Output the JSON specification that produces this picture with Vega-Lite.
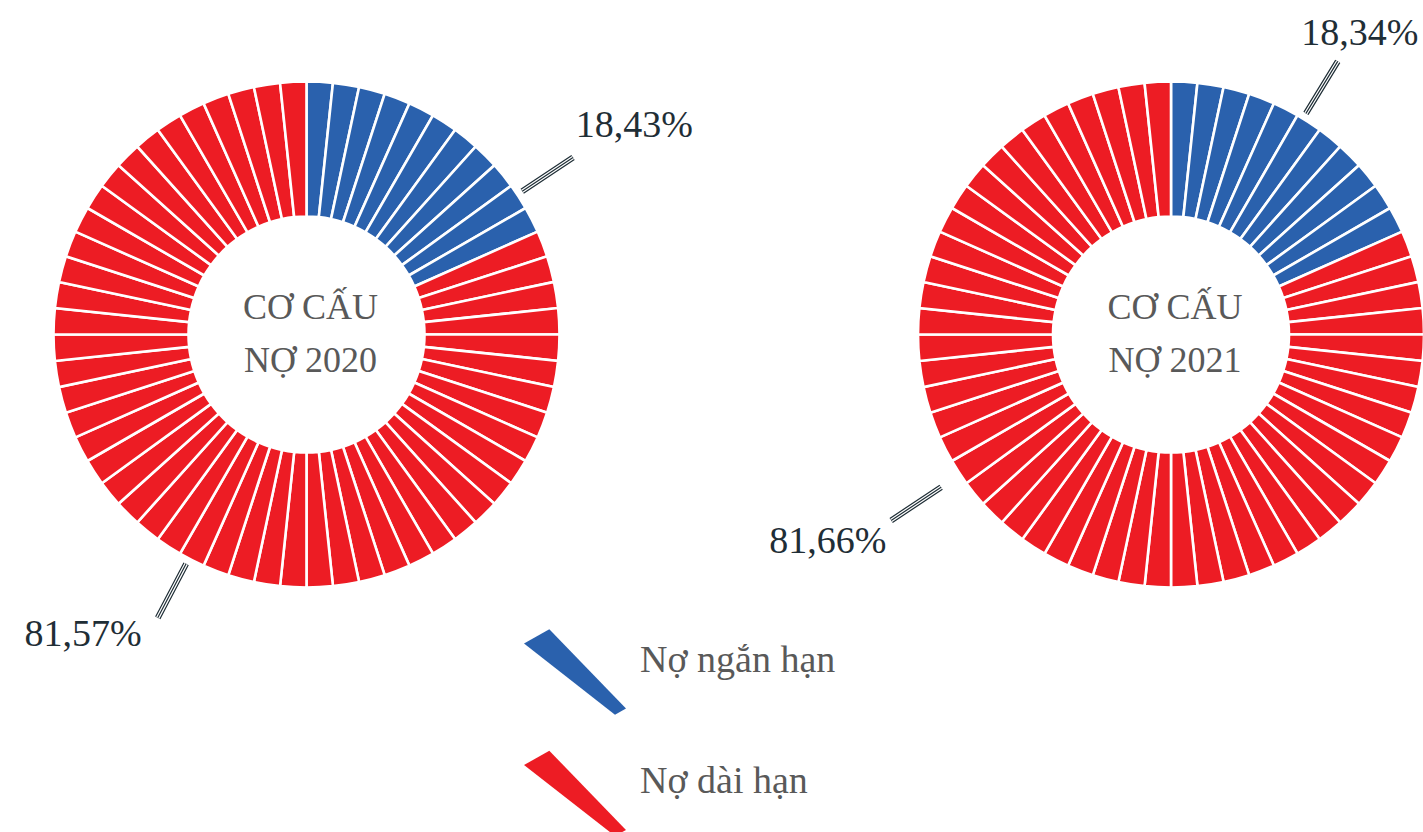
{
  "$schema": "https://vega.github.io/schema/vega-lite/v6.json",
  "width": 1423,
  "height": 669,
  "padding": 0,
  "autosize": {"type": "pad"},
  "background": "white",
  "config": {
    "view": {"stroke": null},
    "locale": {"number": {"decimal": ",", "thousands": ".", "grouping": [3], "currency": ["", " ₫"]}},
    "text": {"font": "Liberation Serif"},
    "legend": {
      "padding": 0,
      "symbolType": "M-0.927,-0.516L-0.467,-0.776L0.927,0.665L0.727,0.775Z",
      "symbolSize": 12100,
      "symbolStrokeWidth": 0,
      "symbolOpacity": 1,
      "labelFont": "Liberation Serif",
      "labelFontSize": 38,
      "labelColor": "#595959",
      "labelBaseline": "alphabetic",
      "labelOffset": 10,
      "labelLimit": 400,
      "rowPadding": 23.4
    }
  },
  "data": {
    "values": [
      {"nam": 2020, "phan": 1, "loai": "Nợ ngắn hạn"}, {"nam": 2020, "phan": 2, "loai": "Nợ ngắn hạn"}, {"nam": 2020, "phan": 3, "loai": "Nợ ngắn hạn"}, {"nam": 2020, "phan": 4, "loai": "Nợ ngắn hạn"}, {"nam": 2020, "phan": 5, "loai": "Nợ ngắn hạn"}, {"nam": 2020, "phan": 6, "loai": "Nợ ngắn hạn"}, {"nam": 2020, "phan": 7, "loai": "Nợ ngắn hạn"}, {"nam": 2020, "phan": 8, "loai": "Nợ ngắn hạn"}, {"nam": 2020, "phan": 9, "loai": "Nợ ngắn hạn"}, {"nam": 2020, "phan": 10, "loai": "Nợ ngắn hạn"}, {"nam": 2020, "phan": 11, "loai": "Nợ ngắn hạn"},
      {"nam": 2020, "phan": 12, "loai": "Nợ dài hạn"}, {"nam": 2020, "phan": 13, "loai": "Nợ dài hạn"}, {"nam": 2020, "phan": 14, "loai": "Nợ dài hạn"}, {"nam": 2020, "phan": 15, "loai": "Nợ dài hạn"}, {"nam": 2020, "phan": 16, "loai": "Nợ dài hạn"}, {"nam": 2020, "phan": 17, "loai": "Nợ dài hạn"}, {"nam": 2020, "phan": 18, "loai": "Nợ dài hạn"}, {"nam": 2020, "phan": 19, "loai": "Nợ dài hạn"}, {"nam": 2020, "phan": 20, "loai": "Nợ dài hạn"}, {"nam": 2020, "phan": 21, "loai": "Nợ dài hạn"}, {"nam": 2020, "phan": 22, "loai": "Nợ dài hạn"}, {"nam": 2020, "phan": 23, "loai": "Nợ dài hạn"}, {"nam": 2020, "phan": 24, "loai": "Nợ dài hạn"}, {"nam": 2020, "phan": 25, "loai": "Nợ dài hạn"}, {"nam": 2020, "phan": 26, "loai": "Nợ dài hạn"}, {"nam": 2020, "phan": 27, "loai": "Nợ dài hạn"}, {"nam": 2020, "phan": 28, "loai": "Nợ dài hạn"}, {"nam": 2020, "phan": 29, "loai": "Nợ dài hạn"}, {"nam": 2020, "phan": 30, "loai": "Nợ dài hạn"}, {"nam": 2020, "phan": 31, "loai": "Nợ dài hạn"}, {"nam": 2020, "phan": 32, "loai": "Nợ dài hạn"}, {"nam": 2020, "phan": 33, "loai": "Nợ dài hạn"}, {"nam": 2020, "phan": 34, "loai": "Nợ dài hạn"}, {"nam": 2020, "phan": 35, "loai": "Nợ dài hạn"}, {"nam": 2020, "phan": 36, "loai": "Nợ dài hạn"}, {"nam": 2020, "phan": 37, "loai": "Nợ dài hạn"}, {"nam": 2020, "phan": 38, "loai": "Nợ dài hạn"}, {"nam": 2020, "phan": 39, "loai": "Nợ dài hạn"}, {"nam": 2020, "phan": 40, "loai": "Nợ dài hạn"}, {"nam": 2020, "phan": 41, "loai": "Nợ dài hạn"}, {"nam": 2020, "phan": 42, "loai": "Nợ dài hạn"}, {"nam": 2020, "phan": 43, "loai": "Nợ dài hạn"}, {"nam": 2020, "phan": 44, "loai": "Nợ dài hạn"}, {"nam": 2020, "phan": 45, "loai": "Nợ dài hạn"}, {"nam": 2020, "phan": 46, "loai": "Nợ dài hạn"}, {"nam": 2020, "phan": 47, "loai": "Nợ dài hạn"}, {"nam": 2020, "phan": 48, "loai": "Nợ dài hạn"}, {"nam": 2020, "phan": 49, "loai": "Nợ dài hạn"}, {"nam": 2020, "phan": 50, "loai": "Nợ dài hạn"}, {"nam": 2020, "phan": 51, "loai": "Nợ dài hạn"}, {"nam": 2020, "phan": 52, "loai": "Nợ dài hạn"}, {"nam": 2020, "phan": 53, "loai": "Nợ dài hạn"}, {"nam": 2020, "phan": 54, "loai": "Nợ dài hạn"}, {"nam": 2020, "phan": 55, "loai": "Nợ dài hạn"}, {"nam": 2020, "phan": 56, "loai": "Nợ dài hạn"}, {"nam": 2020, "phan": 57, "loai": "Nợ dài hạn"}, {"nam": 2020, "phan": 58, "loai": "Nợ dài hạn"}, {"nam": 2020, "phan": 59, "loai": "Nợ dài hạn"}, {"nam": 2020, "phan": 60, "loai": "Nợ dài hạn"},
      {"nam": 2021, "phan": 1, "loai": "Nợ ngắn hạn"}, {"nam": 2021, "phan": 2, "loai": "Nợ ngắn hạn"}, {"nam": 2021, "phan": 3, "loai": "Nợ ngắn hạn"}, {"nam": 2021, "phan": 4, "loai": "Nợ ngắn hạn"}, {"nam": 2021, "phan": 5, "loai": "Nợ ngắn hạn"}, {"nam": 2021, "phan": 6, "loai": "Nợ ngắn hạn"}, {"nam": 2021, "phan": 7, "loai": "Nợ ngắn hạn"}, {"nam": 2021, "phan": 8, "loai": "Nợ ngắn hạn"}, {"nam": 2021, "phan": 9, "loai": "Nợ ngắn hạn"}, {"nam": 2021, "phan": 10, "loai": "Nợ ngắn hạn"}, {"nam": 2021, "phan": 11, "loai": "Nợ ngắn hạn"},
      {"nam": 2021, "phan": 12, "loai": "Nợ dài hạn"}, {"nam": 2021, "phan": 13, "loai": "Nợ dài hạn"}, {"nam": 2021, "phan": 14, "loai": "Nợ dài hạn"}, {"nam": 2021, "phan": 15, "loai": "Nợ dài hạn"}, {"nam": 2021, "phan": 16, "loai": "Nợ dài hạn"}, {"nam": 2021, "phan": 17, "loai": "Nợ dài hạn"}, {"nam": 2021, "phan": 18, "loai": "Nợ dài hạn"}, {"nam": 2021, "phan": 19, "loai": "Nợ dài hạn"}, {"nam": 2021, "phan": 20, "loai": "Nợ dài hạn"}, {"nam": 2021, "phan": 21, "loai": "Nợ dài hạn"}, {"nam": 2021, "phan": 22, "loai": "Nợ dài hạn"}, {"nam": 2021, "phan": 23, "loai": "Nợ dài hạn"}, {"nam": 2021, "phan": 24, "loai": "Nợ dài hạn"}, {"nam": 2021, "phan": 25, "loai": "Nợ dài hạn"}, {"nam": 2021, "phan": 26, "loai": "Nợ dài hạn"}, {"nam": 2021, "phan": 27, "loai": "Nợ dài hạn"}, {"nam": 2021, "phan": 28, "loai": "Nợ dài hạn"}, {"nam": 2021, "phan": 29, "loai": "Nợ dài hạn"}, {"nam": 2021, "phan": 30, "loai": "Nợ dài hạn"}, {"nam": 2021, "phan": 31, "loai": "Nợ dài hạn"}, {"nam": 2021, "phan": 32, "loai": "Nợ dài hạn"}, {"nam": 2021, "phan": 33, "loai": "Nợ dài hạn"}, {"nam": 2021, "phan": 34, "loai": "Nợ dài hạn"}, {"nam": 2021, "phan": 35, "loai": "Nợ dài hạn"}, {"nam": 2021, "phan": 36, "loai": "Nợ dài hạn"}, {"nam": 2021, "phan": 37, "loai": "Nợ dài hạn"}, {"nam": 2021, "phan": 38, "loai": "Nợ dài hạn"}, {"nam": 2021, "phan": 39, "loai": "Nợ dài hạn"}, {"nam": 2021, "phan": 40, "loai": "Nợ dài hạn"}, {"nam": 2021, "phan": 41, "loai": "Nợ dài hạn"}, {"nam": 2021, "phan": 42, "loai": "Nợ dài hạn"}, {"nam": 2021, "phan": 43, "loai": "Nợ dài hạn"}, {"nam": 2021, "phan": 44, "loai": "Nợ dài hạn"}, {"nam": 2021, "phan": 45, "loai": "Nợ dài hạn"}, {"nam": 2021, "phan": 46, "loai": "Nợ dài hạn"}, {"nam": 2021, "phan": 47, "loai": "Nợ dài hạn"}, {"nam": 2021, "phan": 48, "loai": "Nợ dài hạn"}, {"nam": 2021, "phan": 49, "loai": "Nợ dài hạn"}, {"nam": 2021, "phan": 50, "loai": "Nợ dài hạn"}, {"nam": 2021, "phan": 51, "loai": "Nợ dài hạn"}, {"nam": 2021, "phan": 52, "loai": "Nợ dài hạn"}, {"nam": 2021, "phan": 53, "loai": "Nợ dài hạn"}, {"nam": 2021, "phan": 54, "loai": "Nợ dài hạn"}, {"nam": 2021, "phan": 55, "loai": "Nợ dài hạn"}, {"nam": 2021, "phan": 56, "loai": "Nợ dài hạn"}, {"nam": 2021, "phan": 57, "loai": "Nợ dài hạn"}, {"nam": 2021, "phan": 58, "loai": "Nợ dài hạn"}, {"nam": 2021, "phan": 59, "loai": "Nợ dài hạn"}, {"nam": 2021, "phan": 60, "loai": "Nợ dài hạn"}
    ]
  },
  "encoding": {
    "x": {"field": "nam", "type": "ordinal", "axis": null, "scale": {"type": "point", "padding": 0.32302, "align": 0.54879}}
  },
  "resolve": {"scale": {"theta": "independent"}},
  "layer": [
    {
      "transform": [{"filter": "datum.nam == 2020"}],
      "mark": {"type": "arc", "radius": 253, "radius2": 118, "stroke": "white", "strokeWidth": 2.6},
      "encoding": {
        "theta": {"aggregate": "count", "type": "quantitative", "stack": true},
        "order": {"field": "phan", "type": "quantitative"},
        "color": {"field": "loai", "type": "nominal", "scale": {"domain": ["Nợ ngắn hạn", "Nợ dài hạn"], "range": ["#2a61ad", "#ed1c24"]}, "legend": {"title": null, "orient": "none", "legendX": 520, "legendY": 617}}
      }
    },
    {
      "transform": [{"filter": "datum.nam == 2021"}],
      "mark": {"type": "arc", "radius": 253, "radius2": 118, "stroke": "white", "strokeWidth": 2.6},
      "encoding": {
        "theta": {"aggregate": "count", "type": "quantitative", "stack": true},
        "order": {"field": "phan", "type": "quantitative"},
        "color": {"field": "loai", "type": "nominal", "scale": {"domain": ["Nợ ngắn hạn", "Nợ dài hạn"], "range": ["#2a61ad", "#ed1c24"]}, "legend": {"title": null, "orient": "none", "legendX": 520, "legendY": 617}}
      }
    },
    {
      "data": {"values": [
        {"nam": 2020, "tieu_de": "CƠ CẤU\nNỢ 2020"},
        {"nam": 2021, "tieu_de": "CƠ CẤU\nNỢ 2021"}
      ]},
      "mark": {"type": "text", "fontSize": 36, "color": "#595959", "align": "center", "baseline": "middle", "lineBreak": "\n", "lineHeight": 53, "dx": 4, "dy": -27},
      "encoding": {"text": {"field": "tieu_de", "type": "nominal"}}
    },
    {
      "data": {"values": [
        {"nam": 2020, "loai": "Nợ ngắn hạn", "ty_le": 0.1843, "goc": 58.9},
        {"nam": 2020, "loai": "Nợ dài hạn", "ty_le": 0.8157, "goc": 215.7}
      ]},
      "mark": {"type": "text", "radius": 383, "fontSize": 38, "color": "#1f2e36", "align": "center", "baseline": "alphabetic"},
      "encoding": {
        "theta": {"field": "goc", "type": "quantitative", "stack": null, "scale": {"domain": [0, 360]}},
        "text": {"field": "ty_le", "type": "quantitative", "format": ".2%"}
      }
    },
    {
      "data": {"values": [
        {"nam": 2021, "loai": "Nợ ngắn hạn", "ty_le": 0.1834, "goc": 33.1}
      ]},
      "mark": {"type": "text", "radius": 346, "fontSize": 38, "color": "#1f2e36", "align": "center", "baseline": "alphabetic"},
      "encoding": {
        "theta": {"field": "goc", "type": "quantitative", "stack": null, "scale": {"domain": [0, 360]}},
        "text": {"field": "ty_le", "type": "quantitative", "format": ".2%"}
      }
    },
    {
      "data": {"values": [
        {"nam": 2021, "loai": "Nợ dài hạn", "ty_le": 0.8166, "goc": 237.5}
      ]},
      "mark": {"type": "text", "radius": 407, "fontSize": 38, "color": "#1f2e36", "align": "center", "baseline": "alphabetic"},
      "encoding": {
        "theta": {"field": "goc", "type": "quantitative", "stack": null, "scale": {"domain": [0, 360]}},
        "text": {"field": "ty_le", "type": "quantitative", "format": ".2%"}
      }
    },
    {
      "data": {"values": [
        {"nam": 2020, "loai": "Nợ ngắn hạn", "goc": 56.4},
        {"nam": 2020, "loai": "Nợ dài hạn", "goc": 207.7},
        {"nam": 2021, "loai": "Nợ ngắn hạn", "goc": 31.4}
      ]},
      "encoding": {
        "theta": {"field": "goc", "type": "quantitative", "stack": null, "scale": {"domain": [0, 360]}},
        "theta2": {"field": "goc"}
      },
      "layer": [
        {"mark": {"type": "arc", "radius": 320, "radius2": 259, "fillOpacity": 0, "stroke": "#1f2e36", "strokeWidth": 6}},
        {"mark": {"type": "arc", "radius": 320, "radius2": 259, "fillOpacity": 0, "stroke": "white", "strokeWidth": 3.6}},
        {"mark": {"type": "arc", "radius": 320, "radius2": 259, "fillOpacity": 0, "stroke": "#1f2e36", "strokeWidth": 1.2}}
      ]
    },
    {
      "data": {"values": [
        {"nam": 2021, "loai": "Nợ dài hạn", "goc": 236.4}
      ]},
      "encoding": {
        "theta": {"field": "goc", "type": "quantitative", "stack": null, "scale": {"domain": [0, 360]}},
        "theta2": {"field": "goc"}
      },
      "layer": [
        {"mark": {"type": "arc", "radius": 336, "radius2": 276, "fillOpacity": 0, "stroke": "#1f2e36", "strokeWidth": 6}},
        {"mark": {"type": "arc", "radius": 336, "radius2": 276, "fillOpacity": 0, "stroke": "white", "strokeWidth": 3.6}},
        {"mark": {"type": "arc", "radius": 336, "radius2": 276, "fillOpacity": 0, "stroke": "#1f2e36", "strokeWidth": 1.2}}
      ]
    }
  ]
}
